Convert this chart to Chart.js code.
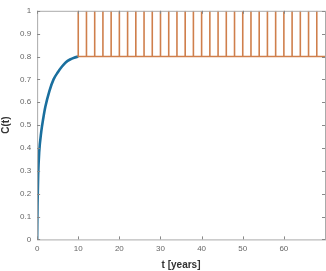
<!DOCTYPE html>
<html>
<head>
<meta charset="utf-8">
<script src="https://cdn.jsdelivr.net/npm/chart.js@4"></script>
<style>
  body { margin: 0; background: #fff; }
  #wrap { width: 326px; height: 271px; }
</style>
</head>
<body>
<div id="wrap"><canvas id="chartC"></canvas></div>
<script>
// kurva awal C(t) sampai t = 10
const growthT = [0, 0.1, 0.25, 0.5, 1, 1.5, 2, 3, 4, 5, 6, 7, 8, 9, 10];
const growthC = [0, 0.15, 0.28, 0.38, 0.47, 0.53, 0.58, 0.65, 0.70, 0.73, 0.755, 0.775, 0.787, 0.795, 0.8];

// lonjakan setiap 2 tahun setelah t = 10
const spikeT = [10, 12, 14, 16, 18, 20, 22, 24, 26, 28, 30, 32, 34, 36, 38, 40,
                42, 44, 46, 48, 50, 52, 54, 56, 58, 60, 62, 64, 66, 68];
const baseLevel = 0.8;
const spikeLevel = 1;
const endT = 70;

const xTicks = [0, 10, 20, 30, 40, 50, 60];
const yTicks = [0, 0.1, 0.2, 0.3, 0.4, 0.5, 0.6, 0.7, 0.8, 0.9, 1];

const growthData = growthT.map((t, i) => ({ x: t, y: growthC[i] }));
const spikeData = [];
spikeT.forEach(t => {
    spikeData.push({ x: t, y: baseLevel });
    spikeData.push({ x: t, y: spikeLevel });
    spikeData.push({ x: t, y: baseLevel });
});
spikeData.push({ x: endT, y: baseLevel });

// tick ke dalam + kotak ala MATLAB
const boxPlugin = {
    id: 'boxTicks',
    afterDraw(chart) {
        const { ctx, chartArea: a, scales } = chart;
        ctx.save();
        ctx.strokeStyle = '#aaa';
        ctx.lineWidth = 1;
        ctx.strokeRect(a.left + 0.5, a.top + 0.5, a.right - a.left, a.bottom - a.top);
        ctx.strokeStyle = '#888';
        ctx.beginPath();
        xTicks.forEach(v => {
            const px = Math.round(scales.x.getPixelForValue(v)) + 0.5;
            ctx.moveTo(px, a.bottom); ctx.lineTo(px, a.bottom - 3);
            ctx.moveTo(px, a.top); ctx.lineTo(px, a.top + 3);
        });
        yTicks.forEach(v => {
            const py = Math.round(scales.y.getPixelForValue(v)) + 0.5;
            ctx.moveTo(a.left, py); ctx.lineTo(a.left + 3, py);
            ctx.moveTo(a.right, py); ctx.lineTo(a.right - 3, py);
        });
        ctx.stroke();
        ctx.restore();
    }
};

new Chart(document.getElementById('chartC'), {
    type: 'line',
    data: {
        datasets: [{
            data: spikeData,
            borderColor: '#cf7f4c',
            borderWidth: 1.6,
            pointRadius: 0,
            tension: 0
        }, {
            data: growthData,
            borderColor: '#1a6f9e',
            borderWidth: 2.6,
            pointRadius: 0,
            cubicInterpolationMode: 'monotone'
        }]
    },
    options: {
        responsive: true,
        maintainAspectRatio: false,
        animation: false,
        layout: { padding: { top: 9, right: 1, left: 0, bottom: 0 } },
        plugins: { legend: { display: false }, tooltip: { enabled: false } },
        scales: {
            x: {
                type: 'linear',
                min: 0, max: endT,
                afterBuildTicks: s => { s.ticks = xTicks.map(v => ({ value: v })); },
                grid: { display: false, drawTicks: false },
                border: { display: false },
                ticks: { color: '#666', font: { family: 'Liberation Sans', size: 8 }, padding: 5, maxRotation: 0 },
                title: { display: true, text: 't [years]', color: '#333',
                         font: { family: 'Liberation Sans', size: 10, weight: 'bold' }, padding: { top: 0, bottom: 0 } }
            },
            y: {
                min: 0, max: 1,
                afterBuildTicks: s => { s.ticks = yTicks.map(v => ({ value: v })); },
                grid: { display: false, drawTicks: false },
                border: { display: false },
                ticks: { color: '#666', font: { family: 'Liberation Sans', size: 8 }, padding: 6,
                         callback: v => String(v) },
                title: { display: true, text: 'C(t)', color: '#333',
                         font: { family: 'Liberation Sans', size: 10, weight: 'bold' }, padding: { top: 0, bottom: 2 } }
            }
        }
    },
    plugins: [boxPlugin]
});
</script>
</body>
</html>
